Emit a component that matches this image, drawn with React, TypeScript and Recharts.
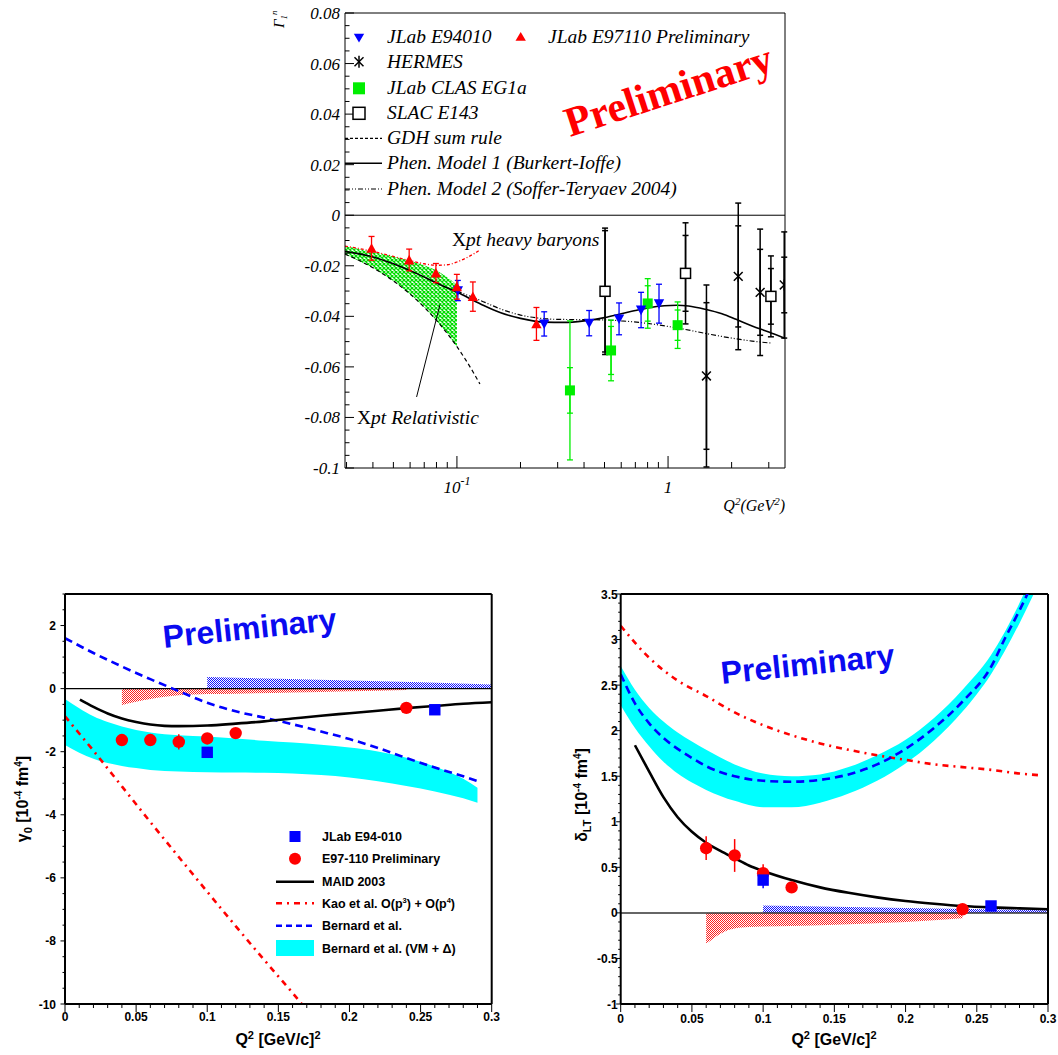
import React from 'react';
import { ComposedChart, Line, Area, Scatter, XAxis, YAxis, ErrorBar, ReferenceLine } from 'recharts';

const SERIF = '"Liberation Serif", "Times New Roman", serif';
const SANS = '"Liberation Sans", Arial, Helvetica, sans-serif';

// ================= TOP PANEL (Gamma_1^n vs Q^2, log x) =================
const E94010_Q2 = [0.101, 0.259, 0.423, 0.586, 0.745, 0.906];
const E94010_G = [-0.0298, -0.043, -0.0427, -0.041, -0.0375, -0.035];
const E94010_ERR = [0.004, 0.0048, 0.005, 0.0063, 0.007, 0.0077];

const E97110_Q2 = [0.0394, 0.0594, 0.0795, 0.0999, 0.119, 0.238];
const E97110_G = [-0.0131, -0.0177, -0.0229, -0.0283, -0.0322, -0.043];
const E97110_ERR = [0.0047, 0.0043, 0.0038, 0.0049, 0.0058, 0.0065];

const HERMES_Q2 = [1.52, 2.15, 2.73, 3.55];
const HERMES_G = [-0.0636, -0.0242, -0.0305, -0.0276];
const HERMES_ERR = [0.036, 0.029, 0.025, 0.021];
const HERMES_STAT = [0.029, 0.02, 0.017, 0.011];

const CLAS_Q2 = [0.343, 0.537, 0.801, 1.11];
const CLAS_G = [-0.0693, -0.0535, -0.0349, -0.0435];
const CLAS_ERR = [0.0275, 0.012, 0.0098, 0.0092];
const CLAS_STAT = [0.009, 0.0095, 0.007, 0.006];

const SLAC_Q2 = [0.503, 1.21, 3.07];
const SLAC_G = [-0.0301, -0.023, -0.0321];
const SLAC_ERR = [0.025, 0.02, 0.016];
const SLAC_STAT = [0.024, 0.015, 0.011];

const MODEL1_Q2 = [0.0295, 0.04, 0.05, 0.065, 0.08, 0.1, 0.13, 0.16, 0.2, 0.26, 0.32, 0.4, 0.5, 0.6, 0.7, 0.8, 0.96, 1.1, 1.25, 1.5, 1.8, 2.1, 2.5, 3.0, 3.58];
const MODEL1_G = [-0.0143, -0.0165, -0.0192, -0.0232, -0.0268, -0.0304, -0.0352, -0.0385, -0.0408, -0.0423, -0.0424, -0.0418, -0.0405, -0.039, -0.0377, -0.0367, -0.0358, -0.0356, -0.0359, -0.0372, -0.039, -0.0412, -0.0438, -0.0462, -0.0487];

const MODEL2_Q2 = [0.1, 0.13, 0.16, 0.2, 0.25, 0.3, 0.4, 0.5, 0.6, 0.8, 1.0, 1.3, 1.6, 2.0, 2.5, 3.1];
const MODEL2_G = [-0.03, -0.0338, -0.037, -0.0395, -0.0408, -0.0412, -0.0413, -0.0414, -0.0418, -0.0428, -0.044, -0.0457, -0.0472, -0.0486, -0.0498, -0.0506];

const GDH_Q2 = [0.0295, 0.035, 0.04, 0.05, 0.06, 0.07, 0.08, 0.09, 0.1, 0.11, 0.12, 0.1285];
const GDH_G = [-0.0154, -0.0182, -0.0208, -0.026, -0.0312, -0.0364, -0.0416, -0.0468, -0.052, -0.0572, -0.0624, -0.0668];

const REL_Q2 = [0.0295, 0.04, 0.05, 0.06, 0.07, 0.08, 0.09, 0.1];
const REL_LO = [-0.0154, -0.0208, -0.026, -0.0312, -0.0364, -0.0416, -0.0468, -0.052];
const REL_HI = [-0.0122, -0.0145, -0.0163, -0.018, -0.0198, -0.0218, -0.0245, -0.0275];

const HB_Q2 = [0.0295, 0.04, 0.05, 0.06, 0.07, 0.08, 0.09, 0.1, 0.11, 0.12, 0.1285];
const HB_G = [-0.0122, -0.0143, -0.0163, -0.018, -0.0192, -0.0198, -0.0196, -0.0185, -0.017, -0.0153, -0.0137];

const TOP_X_TICKS = [0.03, 0.04, 0.05, 0.06, 0.07, 0.08, 0.09, 0.1, 0.2, 0.3, 0.4, 0.5, 0.6, 0.7, 0.8, 0.9, 1, 2, 3];
const TOP_X_MAJOR = [0.1, 1];
const TOP_Y_MAJOR = [0.08, 0.06, 0.04, 0.02, 0, -0.02, -0.04, -0.06, -0.08, -0.1];
const TOP_Y_LABELS = ['0.08', '0.06', '0.04', '0.02', '0', '-0.02', '-0.04', '-0.06', '-0.08', '-0.1'];

// ================= BOTTOM LEFT (gamma_0) =================
const G0_E97_Q2 = [0.04, 0.06, 0.08, 0.1, 0.12, 0.24];
const G0_E97 = [-1.63, -1.63, -1.69, -1.58, -1.41, -0.61];
const G0_E97_ERR = [0.05, 0.05, 0.24, 0.05, 0.05, 0.05];
const G0_E94_Q2 = [0.1, 0.26];
const G0_E94 = [-2.02, -0.67];
const G0_E94_ERR = [0.05, 0.05];

const G0_MAID_Q2 = [0.0105, 0.02, 0.03, 0.04, 0.05, 0.06, 0.07, 0.08, 0.1, 0.12, 0.14, 0.16, 0.18, 0.2, 0.22, 0.24, 0.26, 0.28, 0.3];
const G0_MAID = [-0.35, -0.58, -0.79, -0.95, -1.06, -1.14, -1.18, -1.19, -1.17, -1.11, -1.04, -0.95, -0.86, -0.78, -0.7, -0.62, -0.55, -0.48, -0.43];

const G0_KAO_Q2 = [0, 0.02, 0.04, 0.06, 0.08, 0.1, 0.12, 0.14, 0.16, 0.1665];
const G0_KAO = [-0.88, -1.97, -3.1, -4.23, -5.34, -6.44, -7.53, -8.6, -9.65, -10.0];

const G0_BERN_Q2 = [0, 0.02, 0.04, 0.06, 0.08, 0.1, 0.12, 0.14, 0.16, 0.18, 0.2, 0.22, 0.24, 0.26, 0.28, 0.29];
const G0_BERN = [1.6, 1.13, 0.7, 0.3, -0.08, -0.45, -0.72, -0.92, -1.13, -1.36, -1.6, -1.88, -2.2, -2.5, -2.78, -2.93];

const G0_VM_Q2 = [0, 0.01, 0.02, 0.03, 0.04, 0.05, 0.06, 0.08, 0.1, 0.12, 0.14, 0.16, 0.18, 0.2, 0.22, 0.24, 0.26, 0.28, 0.29];
const G0_VM_HI = [-0.33, -0.62, -0.88, -1.06, -1.2, -1.31, -1.39, -1.48, -1.52, -1.58, -1.65, -1.71, -1.78, -1.87, -1.99, -2.19, -2.47, -2.86, -3.14];
const G0_VM_LO = [-1.79, -2.03, -2.22, -2.36, -2.45, -2.52, -2.58, -2.63, -2.65, -2.66, -2.67, -2.69, -2.74, -2.82, -2.94, -3.09, -3.26, -3.48, -3.62];

const G0_SYS97_Q2 = [0.04, 0.05, 0.06, 0.07, 0.08, 0.1, 0.12, 0.16, 0.2, 0.24];
const G0_SYS97_LO = [-0.52, -0.42, -0.33, -0.26, -0.21, -0.17, -0.16, -0.12, -0.08, -0.04];
const G0_SYS94_Q2 = [0.1, 0.15, 0.2, 0.25, 0.3];
const G0_SYS94_HI = [0.37, 0.31, 0.26, 0.2, 0.13];

const G0_Y_MAJOR = [-10, -8, -6, -4, -2, 0, 2];
const G0_Y_LABELS = ['-10', '-8', '-6', '-4', '-2', '0', '2'];

// ================= BOTTOM RIGHT (delta_LT) =================
const DLT_E97_Q2 = [0.06, 0.08, 0.1, 0.12, 0.24];
const DLT_E97 = [0.71, 0.63, 0.435, 0.28, 0.04];
const DLT_E97_ERR = [0.13, 0.18, 0.1, 0.03, 0.03];
const DLT_E94_Q2 = [0.1, 0.26];
const DLT_E94 = [0.36, 0.076];
const DLT_E94_ERR = [0.09, 0.03];

const DLT_MAID_Q2 = [0.01, 0.02, 0.03, 0.04, 0.05, 0.06, 0.07, 0.08, 0.09, 0.1, 0.12, 0.14, 0.16, 0.18, 0.2, 0.22, 0.24, 0.26, 0.28, 0.3];
const DLT_MAID = [1.84, 1.55, 1.27, 1.05, 0.89, 0.77, 0.68, 0.6, 0.52, 0.46, 0.36, 0.28, 0.22, 0.17, 0.13, 0.1, 0.075, 0.06, 0.05, 0.04];

const DLT_KAO_Q2 = [0, 0.02, 0.04, 0.06, 0.08, 0.1, 0.12, 0.14, 0.16, 0.18, 0.2, 0.22, 0.24, 0.26, 0.28, 0.295];
const DLT_KAO = [3.15, 2.8, 2.55, 2.38, 2.2, 2.06, 1.95, 1.86, 1.79, 1.73, 1.68, 1.63, 1.6, 1.57, 1.53, 1.51];

const DLT_BERN_Q2 = [0, 0.01, 0.02, 0.03, 0.04, 0.05, 0.06, 0.08, 0.1, 0.12, 0.14, 0.16, 0.18, 0.2, 0.22, 0.24, 0.26, 0.27, 0.28, 0.29];
const DLT_BERN = [2.62, 2.3, 2.08, 1.92, 1.8, 1.7, 1.61, 1.5, 1.45, 1.44, 1.46, 1.52, 1.63, 1.8, 2.03, 2.32, 2.7, 3.02, 3.32, 3.65];

const DLT_VM_Q2 = [0, 0.01, 0.02, 0.03, 0.04, 0.05, 0.06, 0.08, 0.1, 0.12, 0.14, 0.16, 0.18, 0.2, 0.22, 0.24, 0.26, 0.28, 0.29];
const DLT_VM_HI = [2.71, 2.45, 2.25, 2.1, 1.98, 1.88, 1.79, 1.63, 1.53, 1.5, 1.52, 1.6, 1.73, 1.9, 2.14, 2.45, 2.83, 3.4, 3.75];
const DLT_VM_LO = [2.28, 2.03, 1.83, 1.66, 1.53, 1.43, 1.35, 1.23, 1.16, 1.16, 1.21, 1.31, 1.45, 1.64, 1.89, 2.21, 2.62, 3.18, 3.5];

const DLT_SYS97_Q2 = [0.06, 0.065, 0.07, 0.075, 0.08, 0.09, 0.1, 0.12, 0.15, 0.2, 0.24];
const DLT_SYS97_LO = [-0.34, -0.28, -0.23, -0.19, -0.17, -0.155, -0.15, -0.145, -0.13, -0.1, -0.06];
const DLT_SYS94_Q2 = [0.1, 0.2, 0.3];
const DLT_SYS94_HI = [0.08, 0.055, 0.03];

const DLT_Y_MAJOR = [-1, -0.5, 0, 0.5, 1, 1.5, 2, 2.5, 3, 3.5];
const DLT_Y_LABELS = ['-1', '-0.5', '0', '0.5', '1', '1.5', '2', '2.5', '3', '3.5'];

const BOT_X_MAJOR = [0, 0.05, 0.1, 0.15, 0.2, 0.25, 0.3];
const BOT_X_LABELS = ['0', '0.05', '0.1', '0.15', '0.2', '0.25', '0.3'];

// ================= helpers =================
const steps = (a: number, b: number, st: number) => {
  const out: number[] = [];
  const n = Math.round((b - a) / st);
  for (let i = 0; i <= n; i++) out.push(Math.round((a + i * st) * 1e6) / 1e6);
  return out;
};
const pts = (xs: number[], ys: number[], es?: number[], ss?: number[]) =>
  xs.map((x, i) => ({ x, y: ys[i], e: es ? es[i] : 0, s: ss ? ss[i] : 0 }));
const band = (xs: number[], lo: number[], hi: number[]) => xs.map((x, i) => ({ x, y: [lo[i], hi[i]] }));
const near = (arr: number[], v: number) => arr.findIndex((m) => Math.abs(m - v) < 1e-7);

const TOP_Y_TICKS = steps(-0.1, 0.08, 0.005);
const G0_Y_TICKS = steps(-10, 3, 0.5);
const DLT_Y_TICKS = steps(-1, 3.5, 0.1);
const BOT_X_TICKS = steps(0, 0.3, 0.01);

// ---------- tick renderers ----------
const TopYTick = (p: any) => {
  const i = near(TOP_Y_MAJOR, p.payload.value);
  return (
    <g>
      <line x1={p.x} x2={p.x + (i >= 0 ? 9 : 4.5)} y1={p.y} y2={p.y} stroke="#000" strokeWidth={1} />
      {i >= 0 && (
        <text x={p.x - 5} y={p.y + 6} textAnchor="end" fontFamily={SERIF} fontStyle="italic" fontSize={17} fill="#000">
          {TOP_Y_LABELS[i]}
        </text>
      )}
    </g>
  );
};
const TopXTick = (p: any) => {
  const i = near(TOP_X_MAJOR, p.payload.value);
  return (
    <g>
      <line x1={p.x} x2={p.x} y1={p.y} y2={p.y - (i >= 0 ? 12 : 6)} stroke="#000" strokeWidth={1} />
      {i === 0 && (
        <text x={p.x} y={p.y + 25} textAnchor="middle" fontFamily={SERIF} fontStyle="italic" fontSize={17} fill="#000">
          10<tspan dy={-8} fontSize={12}>-1</tspan>
        </text>
      )}
      {i === 1 && (
        <text x={p.x} y={p.y + 25} textAnchor="middle" fontFamily={SERIF} fontStyle="italic" fontSize={17} fill="#000">
          1
        </text>
      )}
    </g>
  );
};
const makeBotYTick = (majors: number[], labels: string[], gap: number) => (p: any) => {
  const i = near(majors, p.payload.value);
  return (
    <g>
      <line x1={p.x} x2={p.x - (i >= 0 ? 4.5 : 2.5)} y1={p.y} y2={p.y} stroke="#000" strokeWidth={1} />
      {i >= 0 && (
        <text x={p.x - gap} y={p.y + 4.5} textAnchor="end" fontFamily={SANS} fontWeight="bold" fontSize={12} fill="#000">
          {labels[i]}
        </text>
      )}
    </g>
  );
};
const makeBotXTick = (dy: number) => (p: any) => {
  const i = near(BOT_X_MAJOR, p.payload.value);
  return (
    <g>
      <line x1={p.x} x2={p.x} y1={p.y} y2={p.y + (i >= 0 ? 8 : 4)} stroke="#000" strokeWidth={1} />
      {i >= 0 && (
        <text x={p.x} y={p.y + dy} textAnchor="middle" fontFamily={SANS} fontWeight="bold" fontSize={12} fill="#000">
          {BOT_X_LABELS[i]}
        </text>
      )}
    </g>
  );
};
const G0YTick = makeBotYTick(G0_Y_MAJOR, G0_Y_LABELS, 9);
const DLTYTick = makeBotYTick(DLT_Y_MAJOR, DLT_Y_LABELS, 3);
const G0XTick = makeBotXTick(17);
const DLTXTick = makeBotXTick(19);

// ---------- marker shapes ----------
const triUp = (color: string, s = 5.2) => (p: any) =>
  p.cx == null ? <g /> : <path d={`M${p.cx},${p.cy - s} L${p.cx + s},${p.cy + s * 0.85} L${p.cx - s},${p.cy + s * 0.85} Z`} fill={color} />;
const triDown = (color: string, s = 5.2) => (p: any) =>
  p.cx == null ? <g /> : <path d={`M${p.cx},${p.cy + s} L${p.cx + s},${p.cy - s * 0.85} L${p.cx - s},${p.cy - s * 0.85} Z`} fill={color} />;
const square = (color: string, s = 5) => (p: any) =>
  p.cx == null ? <g /> : <rect x={p.cx - s} y={p.cy - s} width={2 * s} height={2 * s} fill={color} />;
const openSquare = (s = 5) => (p: any) =>
  p.cx == null ? <g /> : <rect x={p.cx - s} y={p.cy - s} width={2 * s} height={2 * s} fill="#fff" stroke="#000" strokeWidth={1.5} />;
const star = (s = 5.5) => (p: any) =>
  p.cx == null ? (
    <g />
  ) : (
    <g stroke="#000" strokeWidth={1.5}>
      <line x1={p.cx} y1={p.cy - s} x2={p.cx} y2={p.cy + s} />
      <line x1={p.cx - s * 0.8} y1={p.cy - s * 0.8} x2={p.cx + s * 0.8} y2={p.cy + s * 0.8} />
      <line x1={p.cx - s * 0.8} y1={p.cy + s * 0.8} x2={p.cx + s * 0.8} y2={p.cy - s * 0.8} />
    </g>
  );
const circle = (color: string, r = 6.2) => (p: any) => (p.cx == null ? <g /> : <circle cx={p.cx} cy={p.cy} r={r} fill={color} />);

const RED = '#ff0000';
const BLUE = '#0000ff';
const GREEN = '#00ee00';
const CYAN = '#00ffff';
const PBLUE = '#0a0af0';

function TopChart() {
  return (
    <ComposedChart width={800} height={520} margin={{ top: 13, right: 15, bottom: 0, left: 0 }}>
      <XAxis
        dataKey="x"
        type="number"
        scale="log"
        domain={[0.0295, 3.58]}
        allowDataOverflow
        ticks={TOP_X_TICKS}
        interval={0}
        tickSize={0}
        tickMargin={0}
        tick={TopXTick}
        height={52}
        axisLine={{ stroke: '#000', strokeWidth: 1 }}
      />
      <YAxis
        type="number"
        domain={[-0.1, 0.08]}
        allowDataOverflow
        ticks={TOP_Y_TICKS}
        interval={0}
        tickSize={0}
        tickMargin={0}
        tick={TopYTick}
        width={345}
        axisLine={{ stroke: '#000', strokeWidth: 1 }}
      />
      <ReferenceLine y={0.08} stroke="#000" strokeWidth={1} />
      <ReferenceLine x={3.58} stroke="#000" strokeWidth={1} />
      <ReferenceLine y={0} stroke="#000" strokeWidth={1} />
      <Area
        data={band(REL_Q2, REL_LO, REL_HI)}
        dataKey="y"
        type="linear"
        stroke="none"
        fill="url(#greenHatch)"
        fillOpacity={1}
        isAnimationActive={false}
        dot={false}
        activeDot={false}
      />
      <Line data={pts(GDH_Q2, GDH_G)} dataKey="y" type="monotone" stroke="#000" strokeWidth={1.2} strokeDasharray="4 3" dot={false} isAnimationActive={false} />
      <Line data={pts(HB_Q2, HB_G)} dataKey="y" type="monotone" stroke={RED} strokeWidth={1.3} strokeDasharray="3 2 1 2" dot={false} isAnimationActive={false} />
      <Line data={pts(MODEL2_Q2, MODEL2_G)} dataKey="y" type="monotone" stroke="#000" strokeWidth={1.2} strokeDasharray="5 2 1 2 1 2" dot={false} isAnimationActive={false} />
      <Line data={pts(MODEL1_Q2, MODEL1_G)} dataKey="y" type="monotone" stroke="#000" strokeWidth={1.6} dot={false} isAnimationActive={false} />
      <ReferenceLine
        segment={[
          { x: 0.0644, y: -0.0719 },
          { x: 0.0831, y: -0.0354 },
        ]}
        stroke="#000"
        strokeWidth={1}
      />
      <Scatter data={pts(SLAC_Q2, SLAC_G, SLAC_ERR, SLAC_STAT)} dataKey="y" shape={openSquare()} isAnimationActive={false}>
        <ErrorBar dataKey="e" direction="y" width={3} stroke="#000" strokeWidth={1.5} />
        <ErrorBar dataKey="s" direction="y" width={3} stroke="#000" strokeWidth={1.5} />
      </Scatter>
      <Scatter data={pts(HERMES_Q2, HERMES_G, HERMES_ERR, HERMES_STAT)} dataKey="y" shape={star()} isAnimationActive={false}>
        <ErrorBar dataKey="e" direction="y" width={3} stroke="#000" strokeWidth={1.5} />
        <ErrorBar dataKey="s" direction="y" width={3} stroke="#000" strokeWidth={1.5} />
      </Scatter>
      <Scatter data={pts(CLAS_Q2, CLAS_G, CLAS_ERR, CLAS_STAT)} dataKey="y" shape={square(GREEN)} isAnimationActive={false}>
        <ErrorBar dataKey="e" direction="y" width={3} stroke={GREEN} strokeWidth={1.3} />
        <ErrorBar dataKey="s" direction="y" width={3} stroke={GREEN} strokeWidth={1.3} />
      </Scatter>
      <Scatter data={pts(E94010_Q2, E94010_G, E94010_ERR)} dataKey="y" shape={triDown(BLUE)} isAnimationActive={false}>
        <ErrorBar dataKey="e" direction="y" width={3} stroke={BLUE} strokeWidth={1.3} />
      </Scatter>
      <Scatter data={pts(E97110_Q2, E97110_G, E97110_ERR)} dataKey="y" shape={triUp(RED)} isAnimationActive={false}>
        <ErrorBar dataKey="e" direction="y" width={3} stroke={RED} strokeWidth={1.3} />
      </Scatter>
    </ComposedChart>
  );
}

function Gamma0Chart() {
  return (
    <ComposedChart width={510} height={475} margin={{ top: 14, right: 18.3, bottom: 0, left: 0 }}>
      <XAxis
        dataKey="x"
        type="number"
        domain={[0, 0.3]}
        allowDataOverflow
        ticks={BOT_X_TICKS}
        interval={0}
        tickSize={0}
        tickMargin={0}
        tick={G0XTick}
        height={51}
        axisLine={{ stroke: '#000', strokeWidth: 2 }}
      />
      <YAxis
        type="number"
        domain={[-10, 3]}
        allowDataOverflow
        ticks={G0_Y_TICKS}
        interval={0}
        tickSize={0}
        tickMargin={0}
        tick={G0YTick}
        width={65}
        axisLine={{ stroke: '#000', strokeWidth: 2 }}
      />
      <Area data={band(G0_VM_Q2, G0_VM_LO, G0_VM_HI)} dataKey="y" type="monotone" stroke="none" fill={CYAN} fillOpacity={1} isAnimationActive={false} dot={false} activeDot={false} />
      <Area data={band(G0_SYS97_Q2, G0_SYS97_LO, G0_SYS97_Q2.map(() => 0))} dataKey="y" type="monotone" stroke="none" fill="url(#redChecker)" fillOpacity={1} isAnimationActive={false} dot={false} activeDot={false} />
      <Area data={band(G0_SYS94_Q2, G0_SYS94_Q2.map(() => 0), G0_SYS94_HI)} dataKey="y" type="linear" stroke="none" fill="url(#blueChecker)" fillOpacity={1} isAnimationActive={false} dot={false} activeDot={false} />
      <ReferenceLine y={0} stroke="#000" strokeWidth={1.2} />
      <ReferenceLine y={3} stroke="#000" strokeWidth={2} />
      <ReferenceLine x={0.3} stroke="#000" strokeWidth={2} />
      <Line data={pts(G0_KAO_Q2, G0_KAO)} dataKey="y" type="monotone" stroke={RED} strokeWidth={2.6} strokeDasharray="6 5 2 5" dot={false} isAnimationActive={false} />
      <Line data={pts(G0_BERN_Q2, G0_BERN)} dataKey="y" type="monotone" stroke={BLUE} strokeWidth={2.6} strokeDasharray="8 5" dot={false} isAnimationActive={false} />
      <Line data={pts(G0_MAID_Q2, G0_MAID)} dataKey="y" type="monotone" stroke="#000" strokeWidth={2.6} dot={false} isAnimationActive={false} />
      <Scatter data={pts(G0_E94_Q2, G0_E94, G0_E94_ERR)} dataKey="y" shape={square(BLUE, 5.7)} isAnimationActive={false}>
        <ErrorBar dataKey="e" direction="y" width={0} stroke={BLUE} strokeWidth={1.5} />
      </Scatter>
      <Scatter data={pts(G0_E97_Q2, G0_E97, G0_E97_ERR)} dataKey="y" shape={circle(RED)} isAnimationActive={false}>
        <ErrorBar dataKey="e" direction="y" width={0} stroke={RED} strokeWidth={1.5} />
      </Scatter>
    </ComposedChart>
  );
}

function DeltaLTChart() {
  return (
    <ComposedChart width={518} height={475} margin={{ top: 14, right: 10, bottom: 0, left: 0 }}>
      <XAxis
        dataKey="x"
        type="number"
        domain={[0, 0.3]}
        allowDataOverflow
        ticks={BOT_X_TICKS}
        interval={0}
        tickSize={0}
        tickMargin={0}
        tick={DLTXTick}
        height={51}
        axisLine={{ stroke: '#000', strokeWidth: 2 }}
      />
      <YAxis
        type="number"
        domain={[-1, 3.5]}
        allowDataOverflow
        ticks={DLT_Y_TICKS}
        interval={0}
        tickSize={0}
        tickMargin={0}
        tick={DLTYTick}
        width={80.7}
        axisLine={{ stroke: '#000', strokeWidth: 2 }}
      />
      <Area data={band(DLT_VM_Q2, DLT_VM_LO, DLT_VM_HI)} dataKey="y" type="monotone" stroke="none" fill={CYAN} fillOpacity={1} isAnimationActive={false} dot={false} activeDot={false} />
      <Area data={band(DLT_SYS97_Q2, DLT_SYS97_LO, DLT_SYS97_Q2.map(() => 0))} dataKey="y" type="monotone" stroke="none" fill="url(#redChecker)" fillOpacity={1} isAnimationActive={false} dot={false} activeDot={false} />
      <Area data={band(DLT_SYS94_Q2, DLT_SYS94_Q2.map(() => 0), DLT_SYS94_HI)} dataKey="y" type="linear" stroke="none" fill="url(#blueChecker)" fillOpacity={1} isAnimationActive={false} dot={false} activeDot={false} />
      <ReferenceLine y={0} stroke="#333" strokeWidth={1.5} />
      <ReferenceLine y={3.5} stroke="#000" strokeWidth={2} />
      <ReferenceLine x={0.3} stroke="#000" strokeWidth={2} />
      <Line data={pts(DLT_KAO_Q2, DLT_KAO)} dataKey="y" type="monotone" stroke={RED} strokeWidth={2.6} strokeDasharray="6 5 2 5" dot={false} isAnimationActive={false} />
      <Line data={pts(DLT_BERN_Q2, DLT_BERN)} dataKey="y" type="monotone" stroke={BLUE} strokeWidth={2.6} strokeDasharray="8 5" dot={false} isAnimationActive={false} />
      <Line data={pts(DLT_MAID_Q2, DLT_MAID)} dataKey="y" type="monotone" stroke="#000" strokeWidth={2.6} dot={false} isAnimationActive={false} />
      <Scatter data={pts(DLT_E97_Q2, DLT_E97, DLT_E97_ERR)} dataKey="y" shape={circle(RED)} isAnimationActive={false}>
        <ErrorBar dataKey="e" direction="y" width={0} stroke={RED} strokeWidth={1.5} />
      </Scatter>
      <Scatter data={pts(DLT_E94_Q2, DLT_E94, DLT_E94_ERR)} dataKey="y" shape={square(BLUE, 5.7)} isAnimationActive={false}>
        <ErrorBar dataKey="e" direction="y" width={0} stroke={BLUE} strokeWidth={1.5} />
      </Scatter>
    </ComposedChart>
  );
}

const TOP_LEGEND_ROWS = [37.3, 61.7, 88.3, 113.3, 138.3, 163.3, 189];

export default function App() {
  const r = TOP_LEGEND_ROWS;
  const lt = { fontFamily: SERIF, fontStyle: 'italic' as const, fontSize: 19.5, fill: '#000' };
  const bt = { fontFamily: SANS, fontWeight: 'bold' as const, fontSize: 12.5, fill: '#000' };
  return (
    <div style={{ position: 'absolute', left: 0, top: 0, width: 1058, height: 1055, background: '#fff', overflow: 'hidden' }}>
      <svg width={0} height={0} style={{ position: 'absolute', left: 0, top: 0 }}>
        <defs>
          <pattern id="greenHatch" patternUnits="userSpaceOnUse" width={4} height={4}>
            <rect width={4} height={4} fill="#fff" />
            <path d="M0,0 L4,4 M4,0 L0,4" stroke="#00dd00" strokeWidth={1.3} />
          </pattern>
          <pattern id="redChecker" patternUnits="userSpaceOnUse" width={2} height={2}>
            <rect x={0} y={0} width={1} height={1} fill="#ff2020" />
            <rect x={1} y={1} width={1} height={1} fill="#ff2020" />
          </pattern>
          <pattern id="blueChecker" patternUnits="userSpaceOnUse" width={2} height={2}>
            <rect x={0} y={0} width={1} height={1} fill="#1010ff" />
            <rect x={1} y={1} width={1} height={1} fill="#1010ff" />
          </pattern>
        </defs>
      </svg>
      <div style={{ position: 'absolute', left: 0, top: 0 }}>
        <TopChart />
      </div>
      <div style={{ position: 'absolute', left: 0, top: 580 }}>
        <Gamma0Chart />
      </div>
      <div style={{ position: 'absolute', left: 540, top: 580 }}>
        <DeltaLTChart />
      </div>
      <svg width={1058} height={1055} style={{ position: 'absolute', left: 0, top: 0, pointerEvents: 'none' }}>
        {/* ---------- top panel annotations ---------- */}
        <text transform="rotate(-90 284 28)" x={284} y={28} fontFamily={SERIF} fontStyle="italic" fontSize={15} fill="#000">
          Γ<tspan dy={3} fontSize={9}>1</tspan>
          <tspan dy={-10} fontSize={9}>n</tspan>
        </text>
        <path d="M359,42.5 L364.2,33.7 L353.8,33.7 Z" fill={BLUE} />
        <text x={387} y={r[0] + 6} {...lt}>JLab E94010</text>
        <path d="M520.7,32 L525.9,40.8 L515.5,40.8 Z" fill={RED} />
        <text x={548} y={r[0] + 6} {...lt}>JLab E97110 Preliminary</text>
        <g stroke="#000" strokeWidth={1.5}>
          <line x1={359} y1={r[1] - 6} x2={359} y2={r[1] + 6} />
          <line x1={354.5} y1={r[1] - 4.5} x2={363.5} y2={r[1] + 4.5} />
          <line x1={354.5} y1={r[1] + 4.5} x2={363.5} y2={r[1] - 4.5} />
        </g>
        <text x={387} y={r[1] + 6} {...lt}>HERMES</text>
        <rect x={353} y={r[2] - 6} width={12} height={12} fill={GREEN} />
        <text x={387} y={r[2] + 6} {...lt}>JLab CLAS EG1a</text>
        <rect x={353} y={r[3] - 6} width={12} height={12} fill="#fff" stroke="#000" strokeWidth={1.5} />
        <text x={387} y={r[3] + 6} {...lt}>SLAC E143</text>
        <line x1={345} y1={r[4]} x2={382} y2={r[4]} stroke="#000" strokeWidth={1.2} strokeDasharray="3 2" />
        <text x={387} y={r[4] + 6} {...lt}>GDH sum rule</text>
        <line x1={345} y1={r[5]} x2={382} y2={r[5]} stroke="#000" strokeWidth={1.6} />
        <text x={387} y={r[5] + 6} {...lt}>Phen. Model 1 (Burkert-Ioffe)</text>
        <line x1={345} y1={r[6]} x2={382} y2={r[6]} stroke="#000" strokeWidth={1.2} strokeDasharray="5 2 1 2 1 2" />
        <text x={387} y={r[6] + 6} {...lt}>Phen. Model 2 (Soffer-Teryaev 2004)</text>
        <text transform="rotate(-18 570 137)" x={570} y={137} fontFamily={SERIF} fontWeight="bold" fontSize={42} fill={RED}>
          Preliminary
        </text>
        <text x={452} y={246} fontFamily={SERIF} fontSize={19.5} fill="#000">
          X<tspan fontStyle="italic">pt heavy baryons</tspan>
        </text>
        <text x={357} y={424} fontFamily={SERIF} fontSize={19.5} fill="#000">
          X<tspan fontStyle="italic">pt Relativistic</tspan>
        </text>
        <text x={785} y={511} textAnchor="end" fontFamily={SERIF} fontStyle="italic" fontSize={16} fill="#000">
          Q<tspan dy={-6} fontSize={11}>2</tspan>
          <tspan dy={6}>(GeV</tspan>
          <tspan dy={-6} fontSize={11}>2</tspan>
          <tspan dy={6}>)</tspan>
        </text>

        {/* ---------- bottom-left annotations ---------- */}
        <text transform="rotate(-6 164 648)" x={164} y={648} fontFamily={SANS} fontWeight="bold" fontSize={32} fill={PBLUE}>
          Preliminary
        </text>
        <text transform="rotate(-90 28 799)" x={28} y={799} textAnchor="middle" fontFamily={SANS} fontWeight="bold" fontSize={16} fill="#000">
          γ<tspan dy={4} fontSize={11}>0</tspan>
          <tspan dy={-4}> [10</tspan>
          <tspan dy={-6} fontSize={10}>-4</tspan>
          <tspan dy={6}> fm</tspan>
          <tspan dy={-6} fontSize={10}>4</tspan>
          <tspan dy={6}>]</tspan>
        </text>
        <text x={278} y={1045} textAnchor="middle" fontFamily={SANS} fontWeight="bold" fontSize={16} fill="#000">
          Q<tspan dy={-6} fontSize={11}>2</tspan>
          <tspan dy={6}> [GeV/c]</tspan>
          <tspan dy={-6} fontSize={11}>2</tspan>
        </text>
        <rect x={289.5} y={831} width={11} height={11} fill={BLUE} />
        <text x={322} y={840.5} {...bt}>JLab E94-010</text>
        <circle cx={295} cy={858.7} r={6} fill={RED} />
        <text x={322} y={863} {...bt}>E97-110 Preliminary</text>
        <line x1={276} y1={881.7} x2={314} y2={881.7} stroke="#000" strokeWidth={2.6} />
        <text x={322} y={886} {...bt}>MAID 2003</text>
        <line x1={276} y1={903.3} x2={314} y2={903.3} stroke={RED} strokeWidth={2.6} strokeDasharray="6 5 2 5" />
        <text x={322} y={908} {...bt}>
          Kao et al. O(p<tspan dy={-5} fontSize={7.5}>3</tspan>
          <tspan dy={5}>) + O(p</tspan>
          <tspan dy={-5} fontSize={7.5}>4</tspan>
          <tspan dy={5}>)</tspan>
        </text>
        <line x1={276} y1={925.7} x2={314} y2={925.7} stroke={BLUE} strokeWidth={2.6} strokeDasharray="6 4" />
        <text x={322} y={930} {...bt}>Bernard et al.</text>
        <rect x={276} y={940} width={38} height={16} fill={CYAN} />
        <text x={322} y={952.5} {...bt}>Bernard et al. (VM + Δ)</text>

        {/* ---------- bottom-right annotations ---------- */}
        <text transform="rotate(-6 722 684)" x={722} y={684} fontFamily={SANS} fontWeight="bold" fontSize={32} fill={PBLUE}>
          Preliminary
        </text>
        <text transform="rotate(-90 587 795)" x={587} y={795} textAnchor="middle" fontFamily={SANS} fontWeight="bold" fontSize={16} fill="#000">
          δ<tspan dy={4} fontSize={11}>LT</tspan>
          <tspan dy={-4}> [10</tspan>
          <tspan dy={-6} fontSize={10}>-4</tspan>
          <tspan dy={6}> fm</tspan>
          <tspan dy={-6} fontSize={10}>4</tspan>
          <tspan dy={6}>]</tspan>
        </text>
        <text x={834} y={1045} textAnchor="middle" fontFamily={SANS} fontWeight="bold" fontSize={16} fill="#000">
          Q<tspan dy={-6} fontSize={11}>2</tspan>
          <tspan dy={6}> [GeV/c]</tspan>
          <tspan dy={-6} fontSize={11}>2</tspan>
        </text>
      </svg>
    </div>
  );
}
